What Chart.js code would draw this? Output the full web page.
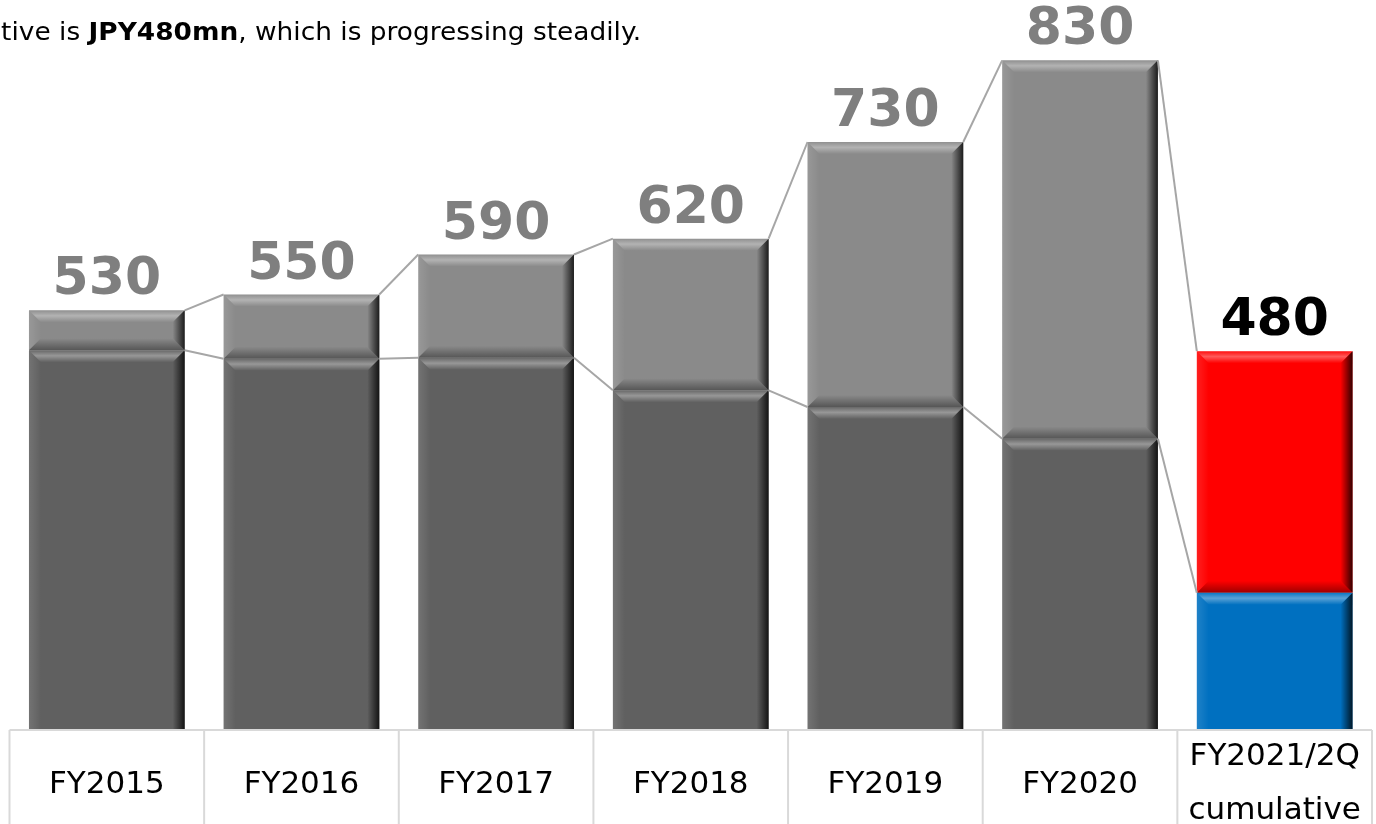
<!DOCTYPE html>
<html>
<head>
<meta charset="utf-8">
<script src="https://cdn.jsdelivr.net/npm/chart.js@4.4.1/dist/chart.umd.min.js"></script>
<style>
html, body { margin: 0; padding: 0; background: #fff; overflow: hidden; }
#wrap { width: 1376px; height: 824px; position: relative; }
</style>
</head>
<body>
<div id="wrap"><canvas id="grafica" width="1376" height="824"></canvas></div>
<script>
// --- Datos ---
const categorias = ['FY2015', 'FY2016', 'FY2017', 'FY2018', 'FY2019', 'FY2020', ['FY2021/2Q', 'cumulative']];
const valoresBase = [482, 472, 473, 434, 414, 376, 191];
const valoresSuperior = [48, 77, 124, 182, 318, 454, 290];
const etiquetasTotal = ['530', '550', '590', '620', '730', '830', '480'];

const coloresBase = ['#606060', '#606060', '#606060', '#606060', '#606060', '#606060', '#0070c0'];
const coloresSuperior = ['#8a8a8a', '#8a8a8a', '#8a8a8a', '#8a8a8a', '#8a8a8a', '#8a8a8a', '#ff0000'];
const coloresEtiqueta = ['#7f7f7f', '#7f7f7f', '#7f7f7f', '#7f7f7f', '#7f7f7f', '#7f7f7f', '#000000'];

const fuente = '"DejaVu Sans", Verdana, sans-serif';

function poligono(ctx, pts, fill) {
    ctx.beginPath();
    ctx.moveTo(pts[0][0], pts[0][1]);
    for (let i = 1; i < pts.length; i++) ctx.lineTo(pts[i][0], pts[i][1]);
    ctx.closePath();
    ctx.fillStyle = fill;
    ctx.fill();
}

// efecto bisel tipo PowerPoint
function bisel(ctx, L, T, R, B, d) {
    const dd = Math.min(d, (B - T) / 2);
    let g = ctx.createLinearGradient(0, T, 0, T + dd);
    g.addColorStop(0, 'rgba(255,255,255,0.05)');
    g.addColorStop(0.45, 'rgba(255,255,255,0.35)');
    g.addColorStop(1, 'rgba(255,255,255,0)');
    poligono(ctx, [[L, T], [R, T], [R - dd, T + dd], [L + dd, T + dd]], g);

    g = ctx.createLinearGradient(L, 0, L + dd, 0);
    g.addColorStop(0, 'rgba(255,255,255,0.12)');
    g.addColorStop(1, 'rgba(255,255,255,0)');
    poligono(ctx, [[L, T], [L + dd, T + dd], [L + dd, B - dd], [L, B]], g);

    g = ctx.createLinearGradient(0, B - dd, 0, B);
    g.addColorStop(0, 'rgba(0,0,0,0)');
    g.addColorStop(1, 'rgba(0,0,0,0.38)');
    poligono(ctx, [[L, B], [L + dd, B - dd], [R - dd, B - dd], [R, B]], g);

    g = ctx.createLinearGradient(R - dd, 0, R, 0);
    g.addColorStop(0, 'rgba(0,0,0,0)');
    g.addColorStop(1, 'rgba(0,0,0,0.8)');
    poligono(ctx, [[R, T], [R, B], [R - dd, B - dd], [R - dd, T + dd]], g);
}

const decoracion = {
    id: 'decoracion',
    afterDatasetsDraw(chart) {
        const ctx = chart.ctx;
        const metas = [chart.getDatasetMeta(0), chart.getDatasetMeta(1)];

        // --- Bisel en cada barra ---
        metas.forEach(meta => {
            meta.data.forEach(el => {
                const L = el.x - el.width / 2, R = el.x + el.width / 2;
                bisel(ctx, L, Math.min(el.y, el.base), R, Math.max(el.y, el.base), 12);
            });
        });

        // --- Lineas de conexion ---
        ctx.save();
        ctx.strokeStyle = '#a6a6a6';
        ctx.lineWidth = 2;
        metas.forEach(meta => {
            for (let i = 0; i < meta.data.length - 1; i++) {
                const a = meta.data[i], b = meta.data[i + 1];
                ctx.beginPath();
                ctx.moveTo(a.x + a.width / 2, a.y);
                ctx.lineTo(b.x - b.width / 2, b.y);
                ctx.stroke();
            }
        });
        ctx.restore();

        // --- Etiquetas de totales ---
        ctx.save();
        ctx.font = 'bold 52px ' + fuente;
        ctx.textAlign = 'center';
        ctx.textBaseline = 'alphabetic';
        metas[1].data.forEach((el, i) => {
            ctx.fillStyle = coloresEtiqueta[i];
            ctx.fillText(etiquetasTotal[i], el.x, el.y - 16);
        });
        ctx.restore();
    },
    afterDraw(chart) {
        const ctx = chart.ctx;
        const xs = chart.scales.x;
        const area = chart.chartArea;
        const top = 730;

        // --- Tabla de categorias ---
        ctx.save();
        ctx.fillStyle = '#ffffff';
        ctx.fillRect(0, top - 1, chart.width, chart.height - top + 1);
        ctx.strokeStyle = '#d9d9d9';
        ctx.lineWidth = 2;
        ctx.beginPath();
        ctx.moveTo(area.left, top);
        ctx.lineTo(area.right, top);
        const paso = (area.right - area.left) / categorias.length;
        for (let i = 0; i <= categorias.length; i++) {
            const x = area.left + i * paso;
            ctx.moveTo(x, top);
            ctx.lineTo(x, chart.height);
        }
        ctx.stroke();

        ctx.fillStyle = '#000000';
        ctx.font = '31px ' + fuente;
        ctx.textAlign = 'center';
        categorias.forEach((c, i) => {
            const x = xs.getPixelForValue(i);
            if (Array.isArray(c)) {
                ctx.fillText(c[0], x, 765);
                ctx.fillText(c[1], x, 819);
            } else {
                ctx.fillText(c, x, 793);
            }
        });
        ctx.restore();

        // --- Texto superior ---
        ctx.save();
        ctx.fillStyle = '#000000';
        ctx.textAlign = 'left';
        ctx.scale(1.1, 1);
        let x = 1;
        const y = 40;
        const partes = [['tive is ', false], ['JPY480mn', true], [', which is progressing steadily.', false]];
        partes.forEach(([t, negrita]) => {
            ctx.font = (negrita ? 'bold ' : '') + '24px ' + fuente;
            ctx.fillText(t, x, y);
            x += ctx.measureText(t).width;
        });
        ctx.restore();
    }
};

new Chart(document.getElementById('grafica').getContext('2d'), {
    type: 'bar',
    data: {
        labels: categorias,
        datasets: [
            { data: valoresBase, backgroundColor: coloresBase, borderWidth: 0 },
            { data: valoresSuperior, backgroundColor: coloresSuperior, borderWidth: 0 }
        ]
    },
    options: {
        responsive: false,
        animation: false,
        barPercentage: 0.8,
        categoryPercentage: 1,
        layout: { padding: { left: 9.5, right: 4, top: 2, bottom: 72 } },
        scales: {
            x: { stacked: true, display: false },
            y: { stacked: true, display: false, min: 0, max: 900 }
        },
        plugins: { legend: { display: false }, tooltip: { enabled: false } }
    },
    plugins: [decoracion]
});
</script>
</body>
</html>
